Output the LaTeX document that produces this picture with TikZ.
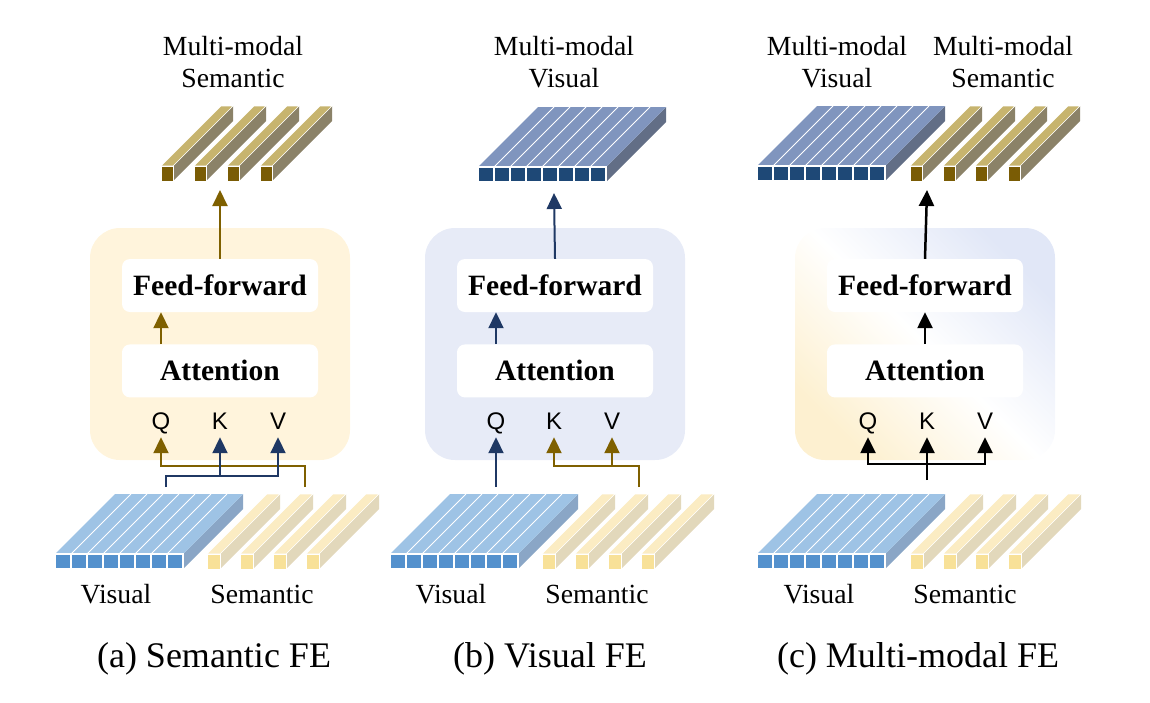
\documentclass[tikz,border=0pt]{standalone}
\usepackage{fontspec}
\setmainfont{Liberation Serif}
\newfontfamily\qkvfont{Liberation Sans}
\usepackage{xcolor}
\usepackage{tikz}
\usetikzlibrary{arrows.meta,positioning,calc}

\definecolor{goldarr}{RGB}{127,96,0}
\definecolor{navyarr}{RGB}{31,56,100}
\definecolor{creambg}{RGB}{255,244,220}
\definecolor{lavbg}{RGB}{231,235,247}
\definecolor{mixyel}{RGB}{253,240,208}
\definecolor{mixblu}{RGB}{225,231,247}
% feature colours
\definecolor{visfront}{RGB}{84,145,205}
\definecolor{vistop}{RGB}{158,195,229}
\definecolor{visside}{RGB}{138,166,198}
\definecolor{semfront}{RGB}{248,225,152}
\definecolor{semtop}{RGB}{251,236,195}
\definecolor{semside}{RGB}{226,216,187}
\definecolor{mvisfront}{RGB}{30,72,118}
\definecolor{mvistop}{RGB}{128,149,190}
\definecolor{mvisside}{RGB}{98,110,134}
\definecolor{msemfront}{RGB}{122,92,5}
\definecolor{msemtop}{RGB}{199,180,110}
\definecolor{msemside}{RGB}{139,130,104}

\tikzset{
  panel/.style={rounded corners=30pt, minimum width=260pt, minimum height=232pt, inner sep=0pt},
  layer/.style={fill=white, rounded corners=8pt, minimum width=196pt, minimum height=53pt,
    inner sep=0pt, font=\fontsize{29.5}{32}\selectfont\bfseries},
  qkv/.style={anchor=base, inner sep=0pt, text depth=0pt, font=\qkvfont\fontsize{24}{26}\selectfont},
  lbl/.style={anchor=base, inner sep=0pt, font=\fontsize{27.7}{32}\selectfont},
  caption/.style={anchor=base, inner sep=0pt, font=\fontsize{36}{40}\selectfont},
  flow/.style={line width=2pt, -{Triangle[length=16pt,width=15pt]}},
  toqkv/.style={flow, shorten >=8pt},
}

% visual feature: 8 columns, front top-left corner at (#1,#2)
\newcommand{\visblock}[5]{%
  \fill[#5] (#1+128,#2) -- (#1+128,#2+15) -- (#1+188,#2-45) -- (#1+188,#2-60) -- cycle;
  \fill[#4] (#1,#2) -- (#1+128,#2) -- (#1+188,#2-60) -- (#1+60,#2-60) -- cycle;
  \foreach \i in {1,...,7}
    \draw[white,line width=1pt] (#1+16*\i,#2) -- ++(60,-60);
  \foreach \i in {0,...,7}
    \draw[white,fill=#3,line width=1.2pt] (#1+16*\i,#2) rectangle ++(16,15);
}
% semantic feature: one bar of width #3
\newcommand{\sembar}[6]{%
  \fill[#6] (#1+#3,#2) -- (#1+#3,#2+15) -- (#1+#3+60,#2-45) -- (#1+#3+60,#2-60) -- cycle;
  \filldraw[#5,draw=white,line width=0.6pt] (#1,#2) -- (#1+#3,#2) -- (#1+#3+60,#2-60) -- (#1+60,#2-60) -- cycle;
  \draw[white,fill=#4,line width=1pt] (#1,#2) rectangle ++(#3,15);
}

\begin{document}
\begin{tikzpicture}[x=1pt,y=-1pt]
        \useasboundingbox (0,0) rectangle (1150,702);

        % Semantic FE (left)
        \begin{scope}
            \node[panel,fill=creambg] (a-box) at (220,344) {};
            \node[layer] (a-ff) at (220,285.5) {Feed-forward};
            \node[layer,below=32pt of a-ff] (a-att) {Attention};
            \node[qkv] (a-q) at (161,429) {Q};
            \node[qkv] (a-k) at (220,429) {K};
            \node[qkv] (a-v) at (278,429) {V};

            \foreach \x in {161,194,227,260}
                \sembar{\x}{166}{12}{msemfront}{msemtop}{msemside};
            \visblock{55}{554}{visfront}{vistop}{visside}
            \foreach \x in {207,240,273,306}
                \sembar{\x}{554}{13}{semfront}{semtop}{semside};

            \node[lbl] (a-ml) at (233,55) {Multi-modal};
            \node[lbl] (a-ms) at (233,87) {Semantic};
            \node[lbl] (a-vl) at (116,603) {Visual};
            \node[lbl] (a-sl) at (262,603) {Semantic};
            \node[caption] (a-cap) at (214,667) {(a) Semantic FE};

            \coordinate (a-vin) at (166,487);
            \coordinate (a-sin) at (305,487);
            \coordinate (a-out) at (220,190);
            \draw[toqkv,goldarr] (a-sin) -- ++(0,-21) -| (a-q.south);
            \draw[toqkv,navyarr] (a-vin) -- ++(0,-11) coordinate (a-fork) -| (a-v.south);
            \draw[toqkv,navyarr] (a-fork -| a-k) -- (a-k.south);
            \draw[flow,goldarr] (a-att.north -| a-q) -- (a-ff.south -| a-q);
            \draw[flow,goldarr] (a-ff.north) -- (a-out);
        \end{scope}

        % Visual FE (middle)
        \begin{scope}[xshift=335pt]
            \node[panel,fill=lavbg] (b-box) at (220,344) {};
            \node[layer] (b-ff) at (220,285.5) {Feed-forward};
            \node[layer,below=32pt of b-ff] (b-att) {Attention};
            \node[qkv] (b-q) at (161,429) {Q};
            \node[qkv] (b-k) at (219,429) {K};
            \node[qkv] (b-v) at (277,429) {V};

            \visblock{143}{167}{mvisfront}{mvistop}{mvisside}
            \visblock{55}{554}{visfront}{vistop}{visside}
            \foreach \x in {207,240,273,306}
                \sembar{\x}{554}{13}{semfront}{semtop}{semside};

            \node[lbl] (b-ml) at (229,55) {Multi-modal};
            \node[lbl] (b-mv) at (229,87) {Visual};
            \node[lbl] (b-vl) at (116,603) {Visual};
            \node[lbl] (b-sl) at (262,603) {Semantic};
            \node[caption] (b-cap) at (215,667) {(b) Visual FE};

            \coordinate (b-vin) at (161,487);
            \coordinate (b-sin) at (304,487);
            \coordinate (b-out) at (219,193);
            \draw[toqkv,navyarr] (b-vin) -- (b-q.south);
            \draw[toqkv,goldarr] (b-sin) -- ++(0,-21) coordinate (b-fork) -| (b-k.south);
            \draw[toqkv,goldarr] (b-fork -| b-v) -- (b-v.south);
            \draw[flow,navyarr] (b-att.north -| b-q) -- (b-ff.south -| b-q);
            \draw[flow,navyarr] (b-ff.north) -- (b-out);
        \end{scope}

        % Multi-modal FE (right)
        \begin{scope}[xshift=705pt]
            \node[panel,left color=mixyel,right color=mixblu,middle color=white,shading angle=135] (c-box) at (220,344) {};
            \node[layer] (c-ff) at (220,285.5) {Feed-forward};
            \node[layer,below=32pt of c-ff] (c-att) {Attention};
            \node[qkv] (c-q) at (163,429) {Q};
            \node[qkv] (c-k) at (222,429) {K};
            \node[qkv] (c-v) at (280,429) {V};

            \visblock{52}{166}{mvisfront}{mvistop}{mvisside}
            \foreach \x in {205,238,270,303}
                \sembar{\x}{166}{12}{msemfront}{msemtop}{msemside};
            \visblock{52}{554}{visfront}{vistop}{visside}
            \foreach \x in {205,238,270,303}
                \sembar{\x}{554}{13}{semfront}{semtop}{semside};

            \node[lbl] (c-ml1) at (132,55) {Multi-modal};
            \node[lbl] (c-mv) at (132,87) {Visual};
            \node[lbl] (c-ml2) at (298,55) {Multi-modal};
            \node[lbl] (c-ms) at (298,87) {Semantic};
            \node[lbl] (c-vl) at (114,603) {Visual};
            \node[lbl] (c-sl) at (260,603) {Semantic};
            \node[caption] (c-cap) at (213,667) {(c) Multi-modal FE};

            \coordinate (c-in) at (222,480);
            \coordinate (c-fork) at (222,464);
            \coordinate (c-out) at (222,190);
            \draw[toqkv,line width=2.5pt] (c-in) -- (c-k.south);
            \draw[toqkv,line width=2.5pt] (c-fork) -| (c-q.south);
            \draw[toqkv,line width=2.5pt] (c-fork) -| (c-v.south);
            \draw[flow,line width=2.5pt] (c-att.north) -- (c-ff.south);
            \draw[flow,line width=2.5pt] (c-ff.north) -- (c-out);
        \end{scope}

    \end{tikzpicture}
\end{document}
